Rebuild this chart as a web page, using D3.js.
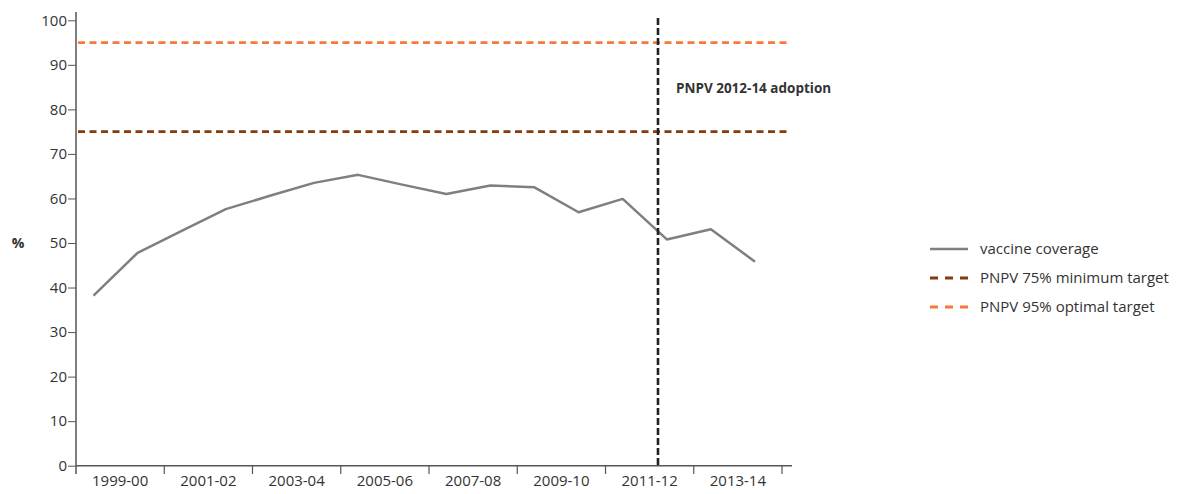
<!DOCTYPE html>
<html>
<head>
<meta charset="utf-8">
<script src="https://cdn.jsdelivr.net/npm/d3@7"></script>
<style>
  body { margin: 0; background: #fff; }
  text { font-family: "Open Sans", "Noto Sans", sans-serif; fill: #333; }
</style>
</head>
<body>
<svg id="chart" width="1181" height="494"></svg>
<script>
// coverage per survey year, 1999-00 .. 2014-15
var years = ["1999-00","2000-01","2001-02","2002-03","2003-04","2004-05","2005-06","2006-07",
             "2007-08","2008-09","2009-10","2010-11","2011-12","2012-13","2013-14","2014-15"];
var coverage = [38.2, 47.8, 52.7, 57.6, 60.6, 63.5, 65.3, 63.1,
                61.0, 62.9, 62.5, 56.9, 59.9, 50.8, 53.1, 45.8];
var tickLabels = ["1999-00","2001-02","2003-04","2005-06","2007-08","2009-10","2011-12","2013-14"];
var yTicks = [0,10,20,30,40,50,60,70,80,90,100];
var targets = [75, 95];
var adoptionAt = 12.8; // position on the year index
var legendItems = ["vaccine coverage", "PNPV 75% minimum target", "PNPV 95% optimal target"];

var colGray = "#7f7f7f", colBrown = "#843c0c", colOrange = "#f4793b";

var svg = d3.select("#chart");

var y = d3.scaleLinear().domain([0, 100]).range([465.7, 20.3]);
var x = d3.scaleLinear().domain([0, years.length - 1]).range([93.5, 755]);
var xb = d3.scaleBand().domain(tickLabels).range([76, 782]).paddingInner(0).paddingOuter(0);

// y axis
var gy = svg.append("g").attr("transform", "translate(76,0)")
  .call(d3.axisLeft(y).tickValues(yTicks).tickSize(8).tickPadding(1));
gy.select(".domain").remove();
gy.selectAll("line").attr("stroke", "#555");
gy.selectAll("text").style("font-size", "15px").attr("fill", "#333");
svg.append("line").attr("x1", 76).attr("x2", 76).attr("y1", 12).attr("y2", 474)
  .attr("stroke", "#555").attr("stroke-width", 1.5);

// x axis
var gx = svg.append("g").attr("transform", "translate(0,465.7)")
  .call(d3.axisBottom(xb).tickSize(0).tickPadding(10));
gx.select(".domain").remove();
gx.selectAll("text").style("font-size", "15px").attr("fill", "#333");
svg.append("line").attr("x1", 76).attr("x2", 792).attr("y1", 465.7).attr("y2", 465.7)
  .attr("stroke", "#555").attr("stroke-width", 1.5);
svg.selectAll(".xtick")
  .data(tickLabels.slice(1).concat(["end"]))
  .enter().append("line")
  .attr("class", "xtick")
  .attr("x1", function(d, i) { return xb(tickLabels[0]) + (i + 1) * xb.bandwidth(); })
  .attr("x2", function(d, i) { return xb(tickLabels[0]) + (i + 1) * xb.bandwidth(); })
  .attr("y1", 465.7).attr("y2", 474)
  .attr("stroke", "#555").attr("stroke-width", 1.2);

svg.append("text").attr("x", 18).attr("y", 248).attr("text-anchor", "middle")
  .style("font-size", "14px").style("font-weight", "bold").text("%");

// target lines
svg.selectAll(".target")
  .data(targets)
  .enter().append("line")
  .attr("class", "target")
  .attr("x1", 78).attr("x2", 790)
  .attr("y1", function(d) { return y(d); })
  .attr("y2", function(d) { return y(d); })
  .attr("stroke", function(d, i) { return i ? colOrange : colBrown; })
  .attr("stroke-width", 2.8)
  .attr("stroke-dasharray", "7,4.5");

// coverage line
svg.append("path")
  .datum(coverage)
  .attr("fill", "none")
  .attr("stroke", colGray)
  .attr("stroke-width", 2.5)
  .attr("stroke-linejoin", "round")
  .attr("d", d3.line().x(function(d, i) { return x(i); }).y(function(d) { return y(d); }));

// adoption marker
svg.append("line")
  .attr("x1", x(adoptionAt)).attr("x2", x(adoptionAt))
  .attr("y1", 18).attr("y2", 465)
  .attr("stroke", "#222").attr("stroke-width", 2.6)
  .attr("stroke-dasharray", "7,3");
svg.append("text").attr("x", x(adoptionAt) + 18).attr("y", 93)
  .style("font-size", "13.5px").style("font-weight", "bold").attr("fill", "#222")
  .text("PNPV 2012-14 adoption");

// legend
var lg = svg.append("g").attr("transform", "translate(930,249)");
var row = lg.selectAll("g").data(legendItems).enter().append("g")
  .attr("transform", function(d, i) { return "translate(0," + (i * 29) + ")"; });
row.append("line").attr("x1", 0).attr("x2", 38).attr("y1", 0).attr("y2", 0)
  .attr("stroke", function(d, i) { return [colGray, colBrown, colOrange][i]; })
  .attr("stroke-width", function(d, i) { return i ? 2.8 : 2.5; })
  .attr("stroke-dasharray", function(d, i) { return i ? "8,7" : null; });
row.append("text").attr("x", 50).attr("y", 5)
  .style("font-size", "15px").text(function(d) { return d; });
</script>
</body>
</html>
